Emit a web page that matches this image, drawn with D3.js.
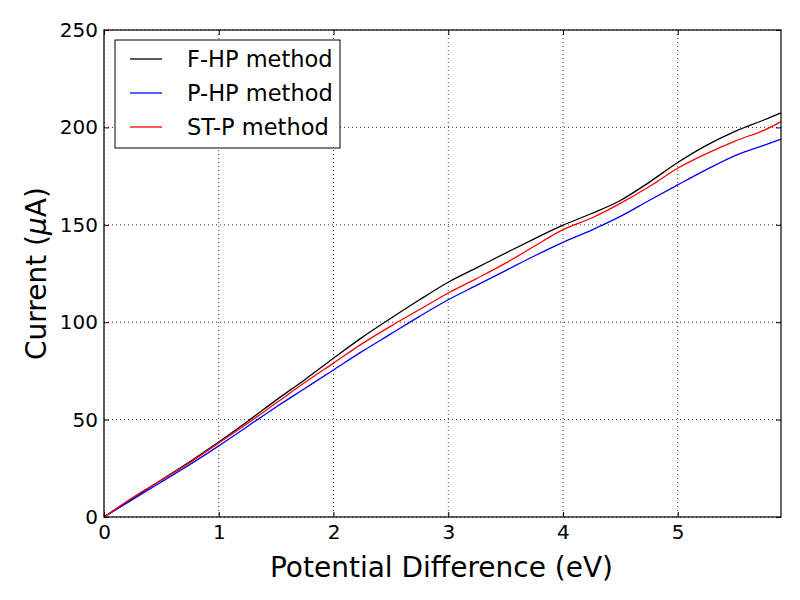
<!DOCTYPE html>
<html>
<head>
<meta charset="utf-8">
<script src="https://cdn.jsdelivr.net/npm/d3@7"></script>
<style>
  body { margin: 0; background: #fff; }
  text { font-family: "DejaVu Sans", sans-serif; }
</style>
</head>
<body>
<svg id="chart" width="800" height="600"></svg>
<script>
// values
let voltage = [0, 0.25, 0.5, 0.75, 1, 1.25, 1.5, 1.75, 2, 2.25, 2.5, 2.75, 3, 3.25, 3.5, 3.75, 4, 4.25, 4.5, 4.75, 5, 5.25, 5.5, 5.75, 5.9];
let fhpCurrent = [0, 9.5, 19, 28.5, 38.5, 49, 60, 70.5, 81.5, 92.2, 102, 111.5, 120.5, 128, 135.5, 142.8, 149.8, 155.8, 162.5, 171.8, 182, 190.8, 198, 203.8, 207.5];
let phpCurrent = [0, 9, 18, 27, 36.5, 46.5, 56.5, 66, 75.5, 85, 94, 103, 111.5, 119, 126.5, 134, 141, 147.3, 154.3, 162.5, 170.5, 178.3, 185.5, 190.8, 194];
let stpCurrent = [0, 10, 19, 28, 38, 48, 58.5, 69, 79, 89, 98, 106.5, 115, 122.5, 130.3, 139, 147.5, 153.5, 161, 169.5, 179, 186.5, 193, 198.5, 203];
let seriesNames = ["F-HP method", "P-HP method", "ST-P method"];
let seriesColors = ["#000000", "#0000ff", "#ff0000"];
let xTicks = [0, 1, 2, 3, 4, 5];
let yTicks = [0, 50, 100, 150, 200, 250];

let plotLeft = 104, plotRight = 781, plotTop = 30, plotBottom = 517;
let svg = d3.select("#chart");

let x = d3.scaleLinear().domain([0, 5.9]).range([plotLeft, plotRight]);
let y = d3.scaleLinear().domain([0, 250]).range([plotBottom, plotTop]);

// grid
let grid = svg.append("g");
grid.selectAll("line.gx").data(xTicks).enter().append("line")
    .attr("class", "gx")
    .attr("x1", d => x(d)).attr("x2", d => x(d))
    .attr("y1", plotTop).attr("y2", plotBottom)
    .attr("stroke", "#000").attr("stroke-width", 0.8)
    .attr("stroke-dasharray", "1,3");
grid.selectAll("line.gy").data(yTicks).enter().append("line")
    .attr("class", "gy")
    .attr("x1", plotLeft).attr("x2", plotRight)
    .attr("y1", d => y(d)).attr("y2", d => y(d))
    .attr("stroke", "#000").attr("stroke-width", 0.8)
    .attr("stroke-dasharray", "1,3");

// curves
let series = [fhpCurrent, phpCurrent, stpCurrent];
let line = d3.line()
    .x((d, i) => x(voltage[i]))
    .y(d => y(d))
    .curve(d3.curveCatmullRom.alpha(0.5));

svg.append("g").selectAll("path")
    .data(series)
    .enter()
    .append("path")
    .attr("fill", "none")
    .attr("stroke", (d, i) => seriesColors[i])
    .attr("stroke-width", 1.3)
    .attr("d", line);

// axes with inward ticks on all sides
let tickStyle = g => {
    g.select(".domain").remove();
    g.selectAll("text").style("font-family", "DejaVu Sans").style("font-size", "20px").attr("fill", "#000");
};
svg.append("g").attr("transform", "translate(0," + plotBottom + ")")
    .call(d3.axisBottom(x).tickValues(xTicks).tickSize(-5).tickPadding(8).tickFormat(d3.format("d")))
    .call(tickStyle);
svg.append("g").attr("transform", "translate(0," + plotTop + ")")
    .call(d3.axisTop(x).tickValues(xTicks).tickSize(-5).tickFormat(""))
    .call(tickStyle);
svg.append("g").attr("transform", "translate(" + plotLeft + ",0)")
    .call(d3.axisLeft(y).tickValues(yTicks).tickSize(-5).tickPadding(6).tickFormat(d3.format("d")))
    .call(tickStyle);
svg.append("g").attr("transform", "translate(" + plotRight + ",0)")
    .call(d3.axisRight(y).tickValues(yTicks).tickSize(-5).tickFormat(""))
    .call(tickStyle);

svg.append("rect")
    .attr("x", plotLeft).attr("y", plotTop)
    .attr("width", plotRight - plotLeft).attr("height", plotBottom - plotTop)
    .attr("fill", "none").attr("stroke", "#000").attr("stroke-width", 1.2);

// axis labels
svg.append("text")
    .attr("x", (plotLeft + plotRight) / 2 - 1).attr("y", 577)
    .attr("text-anchor", "middle")
    .style("font-size", "28px")
    .text("Potential Difference (eV)");

let yl = svg.append("text")
    .attr("transform", "translate(46," + (plotTop + plotBottom) / 2 + ") rotate(-90)")
    .attr("text-anchor", "middle")
    .style("font-size", "28px");
yl.append("tspan").text("Current (");
yl.append("tspan").style("font-style", "italic").text("\u03bc");
yl.append("tspan").text("A)");

// legend
let legend = svg.append("g");
legend.append("rect")
    .attr("x", 115).attr("y", 40).attr("width", 225).attr("height", 108)
    .attr("fill", "#fff").attr("stroke", "#000").attr("stroke-width", 1);
let rows = legend.selectAll("g.row").data(seriesNames).enter().append("g")
    .attr("class", "row")
    .attr("transform", (d, i) => "translate(0," + (59 + i * 34) + ")");
rows.append("line")
    .attr("x1", 130).attr("x2", 162)
    .attr("stroke", (d, i) => seriesColors[i]).attr("stroke-width", 1.3);
rows.append("text")
    .attr("x", 187).attr("dy", "0.35em")
    .style("font-size", "22.5px")
    .text(d => d);
</script>
</body>
</html>
